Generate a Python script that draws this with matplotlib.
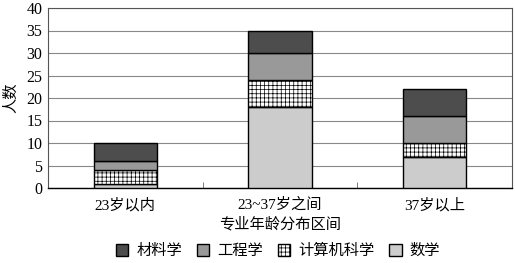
import matplotlib
matplotlib.use("Agg")
import matplotlib.pyplot as plt
import numpy as np

plt.rcParams['font.family'] = ['Liberation Serif', 'Noto Sans CJK SC']
plt.rcParams['hatch.linewidth'] = 0.5
plt.rcParams['hatch.color'] = '#333333'

categories = ['23岁以内', '23~37岁之间', '37岁以上']
series_names = ['材料学', '工程学', '计算机科学', '数学']
math_vals = [1, 18, 7]
cs_vals = [3, 6, 3]
eng_vals = [2, 6, 6]
mat_vals = [4, 5, 6]
yticks = [0, 5, 10, 15, 20, 25, 30, 35, 40]

fig = plt.figure(figsize=(5.15, 2.63), dpi=100)
ax = fig.add_axes([48/515, 1-188/263, (512-48)/515, (188-8)/263])

x = np.arange(len(categories))
w = 0.41
bottom = np.zeros(3)
handles = {}
styles = [
    ('数学', math_vals, dict(color='#cccccc', hatch=None)),
    ('计算机科学', cs_vals, dict(color='white', hatch='++++')),
    ('工程学', eng_vals, dict(color='#999999', hatch=None)),
    ('材料学', mat_vals, dict(color='#4d4d4d', hatch=None)),
]
for name, vals, st in styles:
    b = ax.bar(x, vals, w, bottom=bottom, color=st['color'], edgecolor='black',
               linewidth=1.0, hatch=st['hatch'], zorder=3)
    handles[name] = b
    bottom += np.array(vals)

ax.set_xlim(-0.5, 2.5)
ax.set_ylim(0, 40)
ax.set_yticks(yticks)
ax.yaxis.grid(True, color='#888888', linewidth=0.8, zorder=0)
ax.set_axisbelow(True)
ax.set_xticks(x)
ax.set_xticklabels(categories, fontsize=11)
ax.tick_params(axis='x', length=0, pad=7)
ax.tick_params(axis='y', length=0, labelsize=11.5, pad=4)
ax.set_xticks([0.5, 1.5], minor=True)
ax.tick_params(axis='x', which='minor', length=4, direction='in', color='#666666')
for s in ax.spines.values():
    s.set_color('#555555')
    s.set_linewidth(0.8)
ax.spines['bottom'].set_color('black')
ax.spines['bottom'].set_linewidth(1.0)

ax.set_xlabel('专业年龄分布区间', fontsize=11, labelpad=3)
ax.set_ylabel('人数', fontsize=11, labelpad=6)

leg = fig.legend([handles[n] for n in series_names], series_names, loc='center',
                 bbox_to_anchor=(278/515, 1-251/263), ncol=4, frameon=False,
                 fontsize=11, handlelength=0.8, handleheight=0.8,
                 handletextpad=0.5, columnspacing=1.0)

fig.savefig('out.png', dpi=100)
